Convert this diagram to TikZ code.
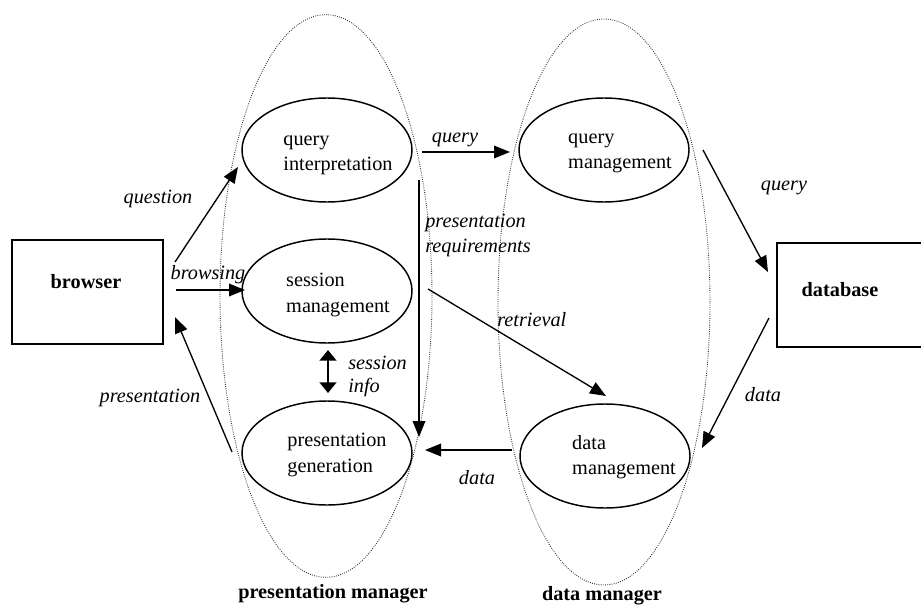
\documentclass[tikz,border=0pt]{standalone}
\usepackage{fontspec}
\setmainfont{Liberation Serif}
\usetikzlibrary{shapes.geometric,arrows.meta}
\begin{document}
\begin{tikzpicture}[x=0.75pt,y=-0.75pt,
  font=\fontsize{15.2}{19}\selectfont,
  proc/.style={draw,ellipse,line width=1.1pt,minimum width=127.5pt,
    minimum height=78pt,inner sep=0pt},
  proctext/.style={align=left,inner sep=0pt},
  group/.style={draw=black!80,densely dotted,line width=0.65pt,ellipse,
    inner sep=0pt,minimum width=159pt},
  store/.style={draw,line width=1.1pt,rectangle,inner sep=0pt},
  flow/.style={line width=1pt,-{Triangle[length=12pt,width=9.5pt]}},
  lab/.style={font=\fontsize{15.2}{19}\selectfont\itshape,inner sep=0pt},
  title/.style={font=\fontsize{15.2}{19}\selectfont\bfseries,inner sep=0pt}]
\useasboundingbox (0,0) rectangle (921,606);

% manager groupings
\node[group,minimum height=422pt] (pm) at (326,296) {};
\node[group,minimum height=424.5pt] (dm) at (604,302) {};

% stores
\node[store,minimum width=113.25pt,minimum height=78pt] (browser) at (87.5,292) {};
\node[title] (browsertxt) at (86,282) {browser};
\node[store,minimum width=114pt,minimum height=78pt] (database) at (853,295) {};
\node[title] (databasetxt) at (840,290) {database};

% processes
\node[proc] (qi) at (327,150) {};
\node[proctext] (qiT) at (338,155) {query\\interpretation};
\node[proc] (sm) at (327,291) {};
\node[proctext] (smT) at (338,295) {session\\management};
\node[proc] (pg) at (327,453) {};
\node[proctext] (pgT) at (337,455) {presentation\\generation};
\node[proc] (qm) at (604,150) {};
\node[proctext] (qmT) at (620,153) {query\\management};
\node[proc] (dmg) at (605,456) {};
\node[proctext] (dmgT) at (624,457) {data\\management};

% connector end points
\coordinate (qS) at (175,262);  \coordinate (qE) at (238,167);
\coordinate (bS) at (176,290);  \coordinate (bE) at (245,290);
\coordinate (pS) at (232,452);  \coordinate (pE) at (175,317);
\coordinate (q1S) at (422,152); \coordinate (q1E) at (510,152);
\coordinate (rqS) at (419,180); \coordinate (rqE) at (419,437);
\coordinate (rtS) at (428,289); \coordinate (rtE) at (606,396);
\coordinate (dS) at (512,450);  \coordinate (dE) at (425,450);
\coordinate (siS) at (328,350); \coordinate (siE) at (328,393);
\coordinate (q2S) at (703,150); \coordinate (q2E) at (768,272);
\coordinate (d2S) at (769,318); \coordinate (d2E) at (702,448);

% flows
\draw[flow] (qS) -- (qE);
\draw[flow] (bS) -- (bE);
\draw[flow] (pS) -- (pE);
\draw[flow] (q1S) -- (q1E);
\draw[flow] (rqS) -- (rqE);
\draw[flow] (rtS) -- (rtE);
\draw[flow] (dS) -- (dE);
\draw[line width=1.8pt,{Triangle[length=8pt,width=12.5pt]}-{Triangle[length=8pt,width=12.5pt]}] (siS) -- (siE);
\draw[flow] (q2S) -- (q2E);
\draw[flow] (d2S) -- (d2E);

% flow labels
\node[lab] (lq) at (158,199) {question};
\node[lab] (lb) at (208,275) {browsing};
\node[lab] (lp) at (150,398) {presentation};
\node[lab] (lq1) at (455,140) {query};
\node[lab,anchor=west] (lpr1) at (425,223) {presentation};
\node[lab,anchor=west] (lpr2) at (425,248) {requirements};
\node[lab,anchor=west] (lrt) at (497,320) {retrieval};
\node[lab] (ld) at (477,478) {data};
\node[lab,anchor=west] (ls1) at (348,363) {session};
\node[lab,anchor=west] (ls2) at (348,388) {info};
\node[lab] (lq2) at (784,188) {query};
\node[lab] (ld2) at (763,395) {data};

% group titles
\node[title] (pmt) at (333,594) {presentation manager};
\node[title] (dmt) at (602,596) {data manager};
\end{tikzpicture}
\end{document}
